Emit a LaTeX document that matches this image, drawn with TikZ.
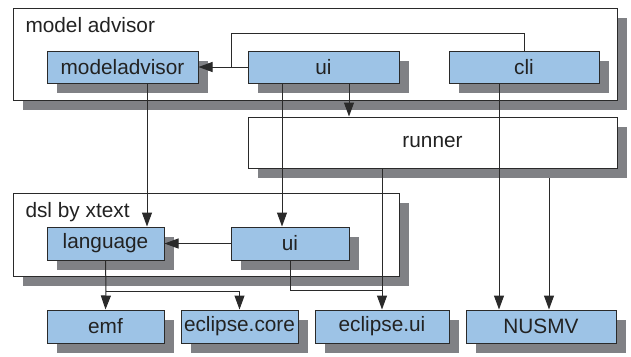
\documentclass[tikz,border=0pt]{standalone}
\usepackage{fontspec}
\setmainfont{Liberation Sans}
\usetikzlibrary{shadows,arrows.meta,calc}
\definecolor{boxblue}{HTML}{9DC3E6}
\definecolor{shgray}{HTML}{808185}
\definecolor{edge}{HTML}{2A2A2A}
\definecolor{txt}{HTML}{222222}
\begin{document}
\begin{tikzpicture}[x=1pt,y=-1pt,
  font=\fontsize{20.8}{24}\selectfont, text=txt,
  shade/.style={drop shadow={shadow xshift=10pt,shadow yshift=-10pt,fill=shgray,opacity=1}},
  grp/.style={draw=edge,line width=1pt,fill=white,shade,inner sep=0pt},
  mod/.style={draw=edge,line width=1pt,fill=boxblue,shade,inner sep=0pt,minimum height=32pt},
  conn/.style={draw=edge,line width=1pt},
  arr/.style={conn,-{Triangle[length=14pt,width=10pt]}}]
\useasboundingbox (0,0) rectangle (631,356);
% groups
\node[grp,minimum width=604pt,minimum height=92pt] (madv) at (315,54) {};
\node[grp,minimum width=369pt,minimum height=51pt] (runner) at (432.5,142.5) {runner};
\node[grp,minimum width=386pt,minimum height=83pt] (dsl) at (206,234.5) {};
\node[anchor=base west] (madvlbl) at (22,32) {model advisor};
\node[anchor=base west] (dsllbl) at (22,217) {dsl by xtext};
% modules
\node[mod,minimum width=151pt] (madvm) at (122.5,67) {modeladvisor};
\node[mod,minimum width=151pt] (ui1) at (323.5,67) {ui};
\node[mod,minimum width=150pt] (cli) at (524,67) {cli};
\node[mod,minimum width=117pt,minimum height=33pt] (lang) at (105.5,243.5) {language};
\node[mod,minimum width=118pt,minimum height=33pt] (ui2) at (290,243.5) {ui};
\node[mod,minimum width=117pt,minimum height=33pt] (emf) at (105.5,326.5) {emf};
\node[mod,minimum width=117pt,minimum height=33pt] (core) at (239.5,326.5) {eclipse.core};
\node[mod,minimum width=134pt,minimum height=33pt] (eui) at (382,326.5) {eclipse.ui};
\node[mod,minimum width=150pt,minimum height=33pt] (nusmv) at (541,326.5) {NUSMV};
% coordinates
\coordinate (c1) at (231,33);
\coordinate (x147) at (147,0);
\coordinate (x282) at (282,0);
\coordinate (x349) at (349,0);
\coordinate (x499) at (499,0);
\coordinate (x549) at (549,178);
\coordinate (j1) at (106,291);
\coordinate (j2) at (239.5,291);
\coordinate (j3) at (290,290);
\coordinate (j4) at (382,290);
% connectors
\draw[arr] (ui1.west) -- (madvm.east);
\draw[conn] (cli.north) |- (c1) -- (c1 |- madvm.east);
\draw[arr] (madvm.south -| x147) -- (lang.north -| x147);
\draw[arr] (ui1.south -| x282) -- (ui2.north -| x282);
\draw[arr] (ui1.south -| x349) -- (runner.north -| x349);
\draw[arr] (cli.south -| x499) -- (nusmv.north -| x499);
\draw[arr] (x549) -- (nusmv.north -| x549);
\draw[arr] (runner.south -| eui.north) -- (eui.north);
\draw[conn] (ui2.south) -- (j3) -- (j4);
\draw[arr] (ui2.west) -- (lang.east);
\draw[arr] (lang.south) -- (j1) -- (emf.north);
\draw[arr] (j1) -- (j2) -- (core.north);
\end{tikzpicture}
\end{document}
